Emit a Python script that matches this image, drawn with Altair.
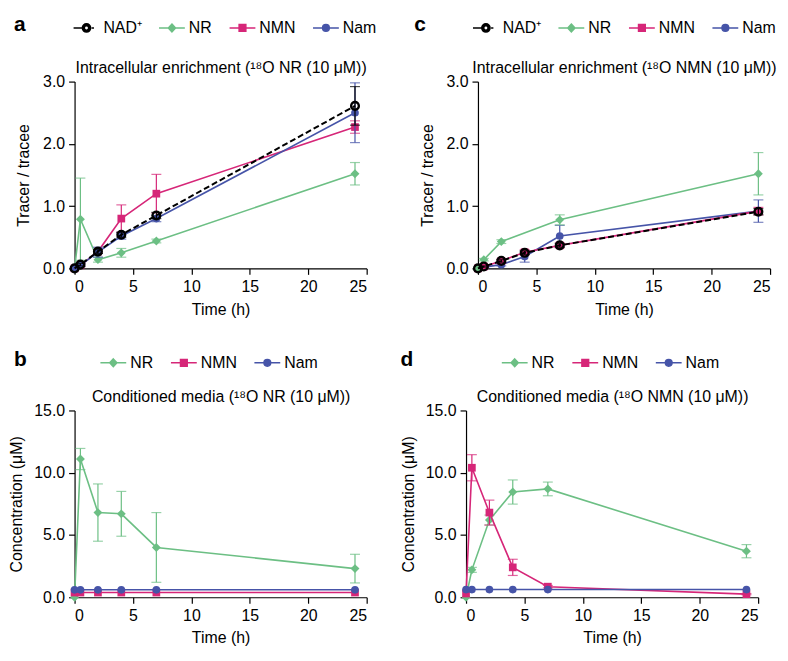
import altair as alt
import pandas as pd

FONT = "Liberation Sans"
W, H = 294, 188

times = [0, 0.5, 2, 4, 7, 24]
times_c_nr = [0, 0.5, 2, 7, 24]

colors = {"NAD⁺": "#000000", "NR": "#6cbf84", "NMN": "#d62678", "Nam": "#4654a8"}

# legend symbols: line segment + marker (custom SVG paths in [-1, 1] box)
legend_paths = {
    "NAD⁺": ("M-1,0L-0.36,0M0.4,0L0.58,0"
             "M0.32,0A0.32,0.32 0 1,1 -0.32,0A0.32,0.32 0 1,1 0.32,0Z"
             "M0.17,0A0.17,0.17 0 1,0 -0.17,0A0.17,0.17 0 1,0 0.17,0Z"),
    "NR": "M-1,0L1,0M0,-0.3L0.28,0L0,0.3L-0.28,0Z",
    "NMN": "M-1,0L1,0M-0.26,-0.26L0.26,-0.26L0.26,0.26L-0.26,0.26Z",
    "Nam": "M-1,0L1,0M0.26,0A0.26,0.26 0 1,1 -0.26,0A0.26,0.26 0 1,1 0.26,0Z",
}

# ---- panel a: intracellular enrichment, 18O NR ----
a_nad = [0, 0.06, 0.27, 0.54, 0.85, 2.61]
a_nad_err = [0, 0.02, 0.03, 0.04, 0.05, 0.31]
a_nr = [0, 0.79, 0.14, 0.25, 0.44, 1.52]
a_nr_err = [0, 0.66, 0.04, 0.07, 0.03, 0.18]
a_nmn = [0, 0.05, 0.27, 0.80, 1.20, 2.27]
a_nmn_err = [0, 0.02, 0.03, 0.22, 0.31, 0.10]
a_nam = [0, 0.05, 0.26, 0.52, 0.80, 2.50]
a_nam_err = [0, 0.02, 0.08, 0.05, 0.05, 0.48]

# ---- panel c: intracellular enrichment, 18O NMN ----
c_nad = [0, 0.03, 0.12, 0.25, 0.37, 0.91]
c_nad_err = [0, 0.01, 0.02, 0.03, 0.03, 0.05]
c_nr = [0, 0.14, 0.43, 0.78, 1.52]
c_nr_err = [0, 0.02, 0.03, 0.08, 0.34]
c_nmn = [0, 0.03, 0.12, 0.26, 0.37, 0.92]
c_nmn_err = [0, 0.01, 0.03, 0.04, 0.04, 0.06]
c_nam = [0, 0.02, 0.06, 0.19, 0.52, 0.92]
c_nam_err = [0, 0.01, 0.02, 0.09, 0.17, 0.18]

# ---- panel b: conditioned media, 18O NR ----
b_nr = [0, 11.1, 6.8, 6.7, 4.0, 2.3]
b_nr_err = [0, 0.85, 2.3, 1.8, 2.8, 1.15]
b_nmn = [0.38, 0.38, 0.38, 0.38, 0.38, 0.38]
b_nmn_err = [0, 0, 0, 0, 0, 0]
b_nam = [0.6, 0.6, 0.6, 0.6, 0.6, 0.6]
b_nam_err = [0, 0, 0, 0, 0, 0]

# ---- panel d: conditioned media, 18O NMN ----
d_nr = [0, 2.2, 6.2, 8.45, 8.7, 3.7]
d_nr_err = [0, 0.2, 0.4, 0.97, 0.55, 0.53]
d_nmn = [0.3, 10.4, 6.8, 2.4, 0.85, 0.25]
d_nmn_err = [0, 1.05, 1.0, 0.65, 0.1, 0.05]
d_nam = [0.62, 0.62, 0.62, 0.62, 0.62, 0.62]
d_nam_err = [0, 0, 0, 0, 0, 0]

x_ticks = [0, 5, 10, 15, 20, 25]


def make_df(entries):
    rows = []
    for s, ts, vs, es in entries:
        for t, v, e in zip(ts, vs, es):
            rows.append({"series": s, "t": t, "v": v, "err": e, "lo": v - e, "hi": v + e})
    return pd.DataFrame(rows)


def panel(entries, legend_series, label, heading, ymax, yticks, ytitle,
          ytitle_pad, legend_x, legend_y, legend_title_pad):
    df = make_df(entries)
    base = alt.Chart(df)
    xscale = alt.Scale(domain=[0, 25], nice=False)
    yscale = alt.Scale(domain=[0, ymax], nice=False)
    xaxis = alt.Axis(values=x_ticks, format="d", title="Time (h)", grid=False,
                     labelPadding=4, titlePadding=7)
    yaxis = alt.Axis(values=yticks, format=".1f", title=ytitle, grid=False,
                     labelPadding=4, titlePadding=ytitle_pad)

    def X(f, first=False):
        return alt.X(f, scale=xscale, axis=xaxis if first else None, title="Time (h)")

    def Y(f):
        return alt.Y(f, scale=yscale, axis=yaxis, title=ytitle)

    layers = []
    first = True
    for s, ts, vs, es in entries:
        c = colors[s]
        sub = base.transform_filter(alt.datum.series == s)
        errs = sub.transform_filter(alt.datum.err > 0)
        layers.append(errs.mark_rule(color=c, strokeWidth=1.2).encode(
            x=X("t:Q", first), y=Y("lo:Q"), y2="hi:Q"))
        first = False
        layers.append(errs.mark_tick(color=c, orient="horizontal", size=10, thickness=1.2)
                      .encode(x=X("t:Q"), y=Y("lo:Q")))
        layers.append(errs.mark_tick(color=c, orient="horizontal", size=10, thickness=1.2)
                      .encode(x=X("t:Q"), y=Y("hi:Q")))
        if s == "NAD⁺":
            layers.append(sub.mark_line(color=c, strokeWidth=2, strokeDash=[6, 3])
                          .encode(x=X("t:Q"), y=Y("v:Q")))
            layers.append(sub.mark_point(shape="circle", filled=False, color=c,
                                         strokeWidth=2.4, size=60, opacity=1)
                          .encode(x=X("t:Q"), y=Y("v:Q")))
        else:
            shape = {"NR": "diamond", "NMN": "square", "Nam": "circle"}[s]
            size = {"NR": 80, "NMN": 60, "Nam": 60}[s]
            layers.append(sub.mark_line(color=c, strokeWidth=1.6)
                          .encode(x=X("t:Q"), y=Y("v:Q")))
            layers.append(sub.mark_point(shape=shape, filled=True, color=c,
                                         size=size, opacity=1)
                          .encode(x=X("t:Q"), y=Y("v:Q")))

    leg = alt.Legend(title=label, orient="none", legendX=legend_x, legendY=legend_y,
                     direction="horizontal", columns=len(legend_series),
                     titleOrient="left", titleFontSize=21, titleFont=FONT,
                     titleFontWeight="bold", titlePadding=legend_title_pad,
                     titleColor="black", titleBaseline="middle",
                     labelFontSize=16, labelFont=FONT, labelColor="black",
                     symbolSize=676, symbolStrokeWidth=1.5, symbolOpacity=1,
                     columnPadding=14, labelOffset=3, padding=4, labelLimit=200)
    top_axis = alt.Axis(orient="top", domain=False, ticks=False, labels=False,
                        grid=False, title=heading, titleFontSize=16,
                        titleFontWeight="normal", titlePadding=6)
    dummy = base.transform_filter("false").mark_point(filled=True, opacity=1).encode(
        x=alt.X("t:Q", scale=xscale, axis=top_axis),
        y=Y("v:Q"),
        fill=alt.Fill("series:N", scale=alt.Scale(domain=legend_series,
                      range=[colors[s] for s in legend_series]), legend=leg),
        stroke=alt.Stroke("series:N", scale=alt.Scale(domain=legend_series,
                          range=[colors[s] for s in legend_series]), legend=leg),
        shape=alt.Shape("series:N", scale=alt.Scale(domain=legend_series,
                        range=[legend_paths[s] for s in legend_series]), legend=leg),
    )
    layers.append(dummy)
    return alt.layer(*layers).resolve_axis(x="independent").properties(width=W, height=H)


def indep(ch):
    return ch.resolve_scale(fill="independent", stroke="independent", shape="independent") \
             .resolve_legend(fill="independent", stroke="independent", shape="independent")


pa = panel([("NR", times, a_nr, a_nr_err), ("NMN", times, a_nmn, a_nmn_err),
            ("Nam", times, a_nam, a_nam_err), ("NAD⁺", times, a_nad, a_nad_err)],
           ["NAD⁺", "NR", "NMN", "Nam"], "a",
           "Intracellular enrichment (¹⁸O NR (10 μM))", 3, [0, 1, 2, 3],
           "Tracer / tracee", 11, -65, -72, 47)
pc = panel([("Nam", times, c_nam, c_nam_err), ("NMN", times, c_nmn, c_nmn_err),
            ("NR", times_c_nr, c_nr, c_nr_err), ("NAD⁺", times, c_nad, c_nad_err)],
           ["NAD⁺", "NR", "NMN", "Nam"], "c",
           "Intracellular enrichment (¹⁸O NMN (10 μM))", 3, [0, 1, 2, 3],
           "Tracer / tracee", 11, -68, -72, 46)
pb = panel([("NR", times, b_nr, b_nr_err), ("NMN", times, b_nmn, b_nmn_err),
            ("Nam", times, b_nam, b_nam_err)],
           ["NR", "NMN", "Nam"], "b",
           "Conditioned media (¹⁸O NR (10 μM))", 15, [0, 5, 10, 15],
           "Concentration (μM)", 9, -65, -66, 73)
pd_ = panel([("NR", times, d_nr, d_nr_err), ("NMN", times, d_nmn, d_nmn_err),
             ("Nam", times, d_nam, d_nam_err)],
            ["NR", "NMN", "Nam"], "d",
            "Conditioned media (¹⁸O NMN (10 μM))", 15, [0, 5, 10, 15],
            "Concentration (μM)", 9, -70, -66, 88)

chart = indep(alt.vconcat(
    indep(alt.hconcat(pa, pc, spacing=30)),
    indep(alt.hconcat(pb, pd_, spacing=29)),
    spacing=28,
)).properties(padding=0).configure(font=FONT).configure_view(stroke=None).configure_axis(
    domainColor="black", domainWidth=1.2, tickColor="black", tickWidth=1.2, tickSize=6,
    labelFont=FONT, labelFontSize=16, labelColor="black",
    titleFont=FONT, titleFontSize=16, titleFontWeight="normal", titleColor="black",
)

chart.save("out.html", embed_options={"renderer": "svg", "actions": False})
